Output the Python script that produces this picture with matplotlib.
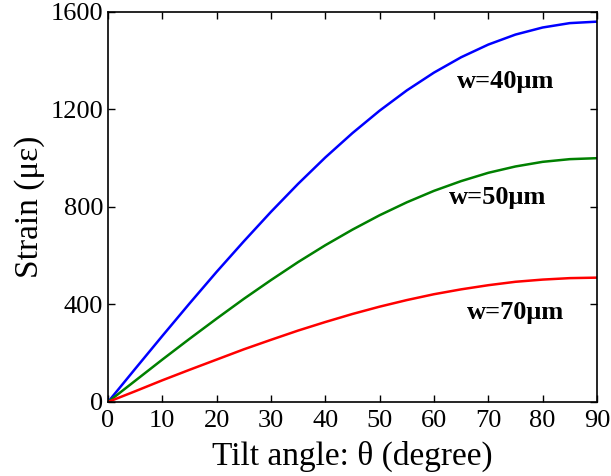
import matplotlib
matplotlib.use("Agg")
import matplotlib.pyplot as plt

plt.rcParams['font.family'] = ['Liberation Serif', 'DejaVu Serif']

# tilt angle (degree) and strain readings for each width
theta = [0, 5, 10, 15, 20, 25, 30, 35, 40, 45, 50, 55, 60, 65, 70, 75, 80, 85, 90]
strain_40 = [0, 136, 271, 404, 534, 659, 780, 895, 1003, 1103, 1195, 1278, 1351,
             1414, 1466, 1507, 1536, 1554, 1560]
strain_50 = [0, 87, 174, 259, 342, 423, 500, 574, 643, 707, 766, 819, 866,
             906, 940, 966, 985, 996, 1000]
strain_70 = [0, 44, 89, 132, 174, 216, 255, 293, 328, 361, 391, 418, 442,
             462, 479, 493, 502, 508, 510]

fig = plt.figure(figsize=(6.11, 4.76), dpi=100)
ax = fig.add_axes([0.1768, 0.1555, 0.8002, 0.8195])

ax.plot(theta, strain_40, color='#0000ff', lw=1.8)
ax.plot(theta, strain_50, color='#008000', lw=1.8)
ax.plot(theta, strain_70, color='#ff0000', lw=1.8)

ax.text(64.3, 1313, 'w=40μm', fontsize=19, fontweight='bold', va='center')
ax.text(62.8, 837, 'w=50μm', fontsize=19, fontweight='bold', va='center')
ax.text(66.0, 369, 'w=70μm', fontsize=19, fontweight='bold', va='center')

ax.set_xlim(0, 90)
ax.set_ylim(0, 1600)
ax.set_xticks(range(0, 91, 10))
ax.set_yticks([0, 400, 800, 1200, 1600])
ax.tick_params(direction='in', top=True, right=True, labelsize=19, length=5, width=1)
ax.tick_params(axis='x', pad=6)
for s in ax.spines.values():
    s.set_linewidth(1.2)

ax.set_xlabel('Tilt angle: θ (degree)', fontsize=24, labelpad=6)
ax.set_ylabel('Strain (με)', fontsize=24, labelpad=4)

fig.savefig('out.png', dpi=100)
